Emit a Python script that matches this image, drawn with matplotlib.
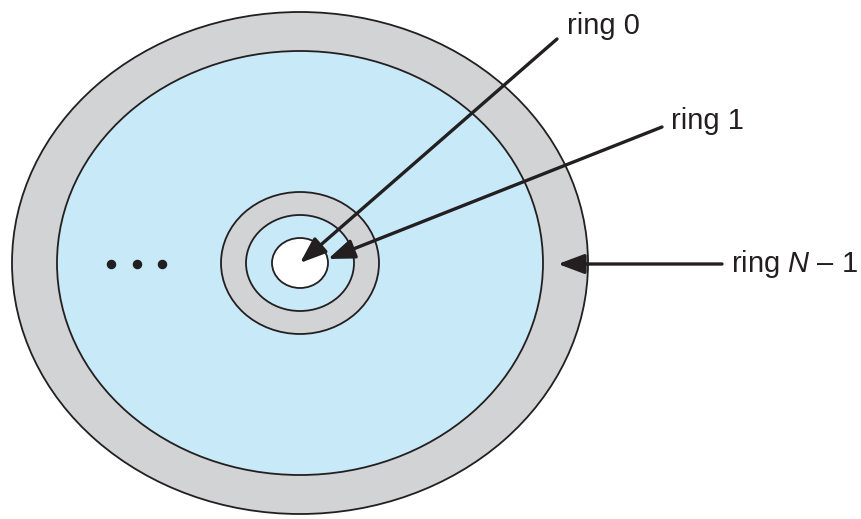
"""Disk rings diagram: concentric rings with labelled arrows"""

import matplotlib
matplotlib.use("Agg")
import matplotlib.pyplot as plt
from matplotlib.patches import Ellipse

# centre of the platter (pixel coords)
cx, cy = 300, 263

# ellipses from outside in: (half width, half height, fill)
ring_a = [288, 243, 79, 54, 28]
ring_b = [251, 212, 71, 48, 25]
ring_fill = ["#d1d3d4", "#c7e9f8", "#d1d3d4", "#c7e9f8", "#ffffff"]

# labels: text, text position, arrow tail, arrow tip
labels = ["ring 0", "ring 1", "ring $\\mathit{N}$ \u2013 1"]
label_xy = [(567, 26), (671, 121), (731, 264)]
tail_xy = [(557, 39), (662, 127), (722, 264)]
tip_xy = [(300, 263), (328, 259), (558, 264)]

dots_x = [111, 137, 162]
dots_y = [264, 264, 264]

plt.rcParams["font.family"] = ["Liberation Sans", "DejaVu Sans"]
plt.rcParams["mathtext.fontset"] = "custom"
plt.rcParams["mathtext.it"] = "Liberation Sans:italic"

fig = plt.figure(figsize=(8.62, 5.19), dpi=100)
ax = fig.add_axes([0, 0, 1, 1])
ax.set_xlim(0, 862)
ax.set_ylim(519, 0)
ax.axis("off")

for a, b, fc in zip(ring_a, ring_b, ring_fill):
    ax.add_patch(Ellipse((cx, cy), 2 * a, 2 * b, facecolor=fc,
                         edgecolor="#231f20", linewidth=1.3))

ax.scatter(dots_x, dots_y, s=34, color="#231f20", zorder=3)

for txt, lxy, t0, t1 in zip(labels, label_xy, tail_xy, tip_xy):
    ax.annotate("", xy=t1, xytext=t0,
                arrowprops=dict(arrowstyle="-|>,head_length=0.8,head_width=0.3",
                                color="#231f20", lw=2.4,
                                mutation_scale=20, shrinkA=0, shrinkB=0))
    ax.text(lxy[0], lxy[1], txt, fontsize=21, color="#231f20",
            ha="left", va="center")

fig.savefig("out.png", dpi=100)
